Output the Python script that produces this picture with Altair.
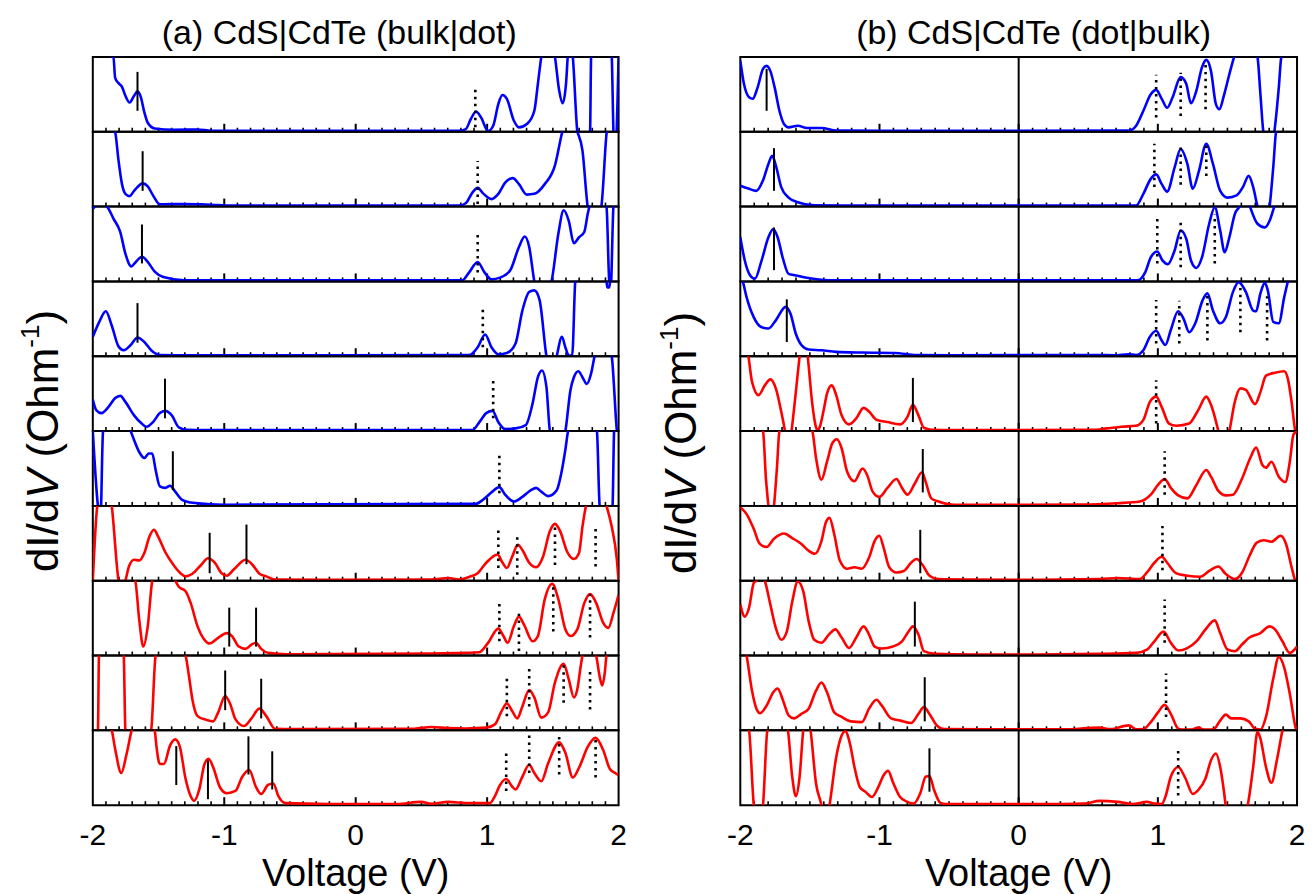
import altair as alt
import pandas as pd

# ---------------- (a) CdS|CdTe (bulk|dot): (voltage, dI/dV scaled to panel height)
A1 = [(-2.0,1.05),(-1.843,1.0),(-1.830,0.72),(-1.804,0.65),(-1.778,0.6),(-1.752,0.48),(-1.720,0.39),(-1.686,0.48),(-1.660,0.54),(-1.634,0.46),(-1.608,0.26),(-1.582,0.12),(-1.529,0.044),(-1.386,0.027),(-1.203,0.03),(-1.098,0.013),(0.784,0.013),(0.837,0.035),(0.876,0.17),(0.915,0.27),(0.954,0.19),(1.007,0.01),(1.046,0.08),(1.085,0.37),(1.116,0.49),(1.150,0.44),(1.203,0.15),(1.242,0.058),(1.307,0.11),(1.359,0.28),(1.386,0.64),(1.412,1.0),(1.470,1.4),(1.516,1.0),(1.548,0.55),(1.574,0.38),(1.600,0.64),(1.613,1.0),(1.632,1.3),(1.652,1.0),(1.686,0.0),(1.725,-0.3),(1.783,0.0),(1.791,1.0),(1.830,1.4),(1.935,1.2),(1.948,1.0),(1.961,0.0),(1.974,-0.3),(2.0,1.0)]
A2 = [(-2.0,1.6),(-1.830,1.0),(-1.804,0.61),(-1.778,0.30),(-1.752,0.17),(-1.720,0.14),(-1.686,0.21),(-1.621,0.31),(-1.582,0.27),(-1.542,0.15),(-1.490,0.03),(-1.307,0.035),(-1.176,0.03),(-1.046,0.02),(-0.915,0.013),(0.784,0.013),(0.837,0.045),(0.889,0.19),(0.928,0.25),(0.967,0.18),(1.033,0.10),(1.085,0.17),(1.137,0.32),(1.195,0.38),(1.242,0.30),(1.302,0.16),(1.359,0.17),(1.438,0.30),(1.516,0.55),(1.569,0.98),(1.621,1.3),(1.686,1.0),(1.725,0.75),(1.765,0.0),(1.817,-0.3),(1.869,0.0),(1.908,0.97),(1.935,1.3),(2.0,1.5)]
A3 = [(-2.0,0.97),(-1.935,1.05),(-1.888,0.99),(-1.843,0.84),(-1.791,0.66),(-1.752,0.37),(-1.707,0.2),(-1.673,0.26),(-1.626,0.33),(-1.582,0.26),(-1.529,0.13),(-1.464,0.058),(-1.307,0.016),(-1.124,0.013),(0.810,0.015),(0.863,0.12),(0.928,0.26),(0.980,0.12),(1.033,0.027),(1.098,0.05),(1.176,0.15),(1.242,0.46),(1.286,0.6),(1.320,0.46),(1.359,0.0),(1.412,-0.3),(1.490,0.0),(1.542,0.64),(1.582,0.95),(1.621,0.81),(1.660,0.51),(1.699,0.59),(1.739,0.66),(1.765,0.9),(1.778,1.0),(1.830,1.3),(1.908,1.0),(1.929,0.0),(1.940,-0.1),(1.961,1.0),(2.0,1.3)]
A4 = [(-2.0,0.26),(-1.948,0.47),(-1.901,0.6),(-1.856,0.41),(-1.804,0.13),(-1.765,0.08),(-1.712,0.15),(-1.660,0.25),(-1.608,0.19),(-1.556,0.08),(-1.490,0.016),(-1.255,0.013),(0.863,0.015),(0.928,0.12),(0.985,0.29),(1.033,0.12),(1.085,0.027),(1.150,0.044),(1.216,0.17),(1.268,0.61),(1.320,0.86),(1.359,0.88),(1.399,0.75),(1.451,0.0),(1.490,-0.3),(1.529,0.0),(1.569,0.26),(1.595,0.12),(1.621,0.01),(1.647,0.01),(1.669,0.97),(1.686,1.3),(1.895,1.3),(1.914,0.92),(1.929,0.92),(1.948,1.3),(2.0,1.3)]
A5 = [(-2.0,0.42),(-1.974,0.28),(-1.935,0.24),(-1.882,0.32),(-1.830,0.44),(-1.791,0.47),(-1.752,0.39),(-1.686,0.21),(-1.634,0.11),(-1.590,0.058),(-1.542,0.12),(-1.490,0.24),(-1.451,0.27),(-1.399,0.21),(-1.346,0.05),(-1.281,0.016),(-1.124,0.013),(0.889,0.015),(0.941,0.12),(0.993,0.24),(1.041,0.27),(1.085,0.12),(1.137,0.027),(1.216,0.036),(1.294,0.08),(1.346,0.37),(1.386,0.72),(1.417,0.81),(1.451,0.59),(1.477,0.0),(1.529,-0.3),(1.595,0.0),(1.634,0.55),(1.660,0.72),(1.694,0.80),(1.725,0.72),(1.758,0.63),(1.791,0.77),(1.817,1.0),(1.882,1.4),(1.948,1.0),(1.987,0.0),(2.0,-0.2)]
A6 = [(-2.0,1.0),(-1.961,0.0),(-1.942,-0.2),(-1.922,1.0),(-1.830,1.4),(-1.712,1.0),(-1.686,0.88),(-1.647,0.72),(-1.608,0.64),(-1.574,0.70),(-1.548,0.70),(-1.522,0.48),(-1.490,0.26),(-1.451,0.24),(-1.412,0.27),(-1.373,0.19),(-1.320,0.08),(-1.255,0.044),(-1.150,0.027),(-0.993,0.015),(0.915,0.027),(0.967,0.08),(1.033,0.18),(1.093,0.25),(1.137,0.15),(1.203,0.058),(1.268,0.12),(1.333,0.21),(1.373,0.24),(1.412,0.19),(1.464,0.13),(1.529,0.21),(1.569,0.48),(1.595,0.75),(1.616,1.0),(1.725,1.4),(1.835,1.0),(1.856,0.0),(1.908,-0.3),(1.954,0.0),(1.966,1.0),(2.0,1.3)]
A7 = [(-2.0,0.0),(-1.966,1.0),(-1.908,1.4),(-1.856,1.0),(-1.804,0.0),(-1.778,-0.15),(-1.752,0.0),(-1.725,0.19),(-1.686,0.28),(-1.647,0.27),(-1.608,0.37),(-1.569,0.59),(-1.535,0.68),(-1.503,0.59),(-1.451,0.39),(-1.386,0.21),(-1.333,0.10),(-1.294,0.058),(-1.242,0.093),(-1.176,0.21),(-1.124,0.30),(-1.072,0.24),(-1.020,0.10),(-0.980,0.067),(-0.928,0.15),(-0.837,0.28),(-0.784,0.21),(-0.732,0.093),(-0.680,0.058),(-0.614,0.016),(-0.209,0.013),(0.575,0.016),(0.706,0.036),(0.784,0.016),(0.863,0.05),(0.928,0.10),(0.993,0.24),(1.080,0.35),(1.111,0.26),(1.150,0.17),(1.190,0.32),(1.234,0.48),(1.268,0.41),(1.320,0.24),(1.373,0.18),(1.425,0.32),(1.477,0.66),(1.516,0.76),(1.556,0.66),(1.608,0.39),(1.660,0.29),(1.699,0.37),(1.725,0.72),(1.752,1.0),(1.830,1.3),(1.908,1.0),(1.948,0.72),(1.987,0.28),(2.0,0.0)]
A8 = [(-2.0,1.4),(-1.678,1.0),(-1.647,0.48),(-1.616,0.12),(-1.582,0.39),(-1.548,1.0),(-1.464,1.4),(-1.373,1.0),(-1.346,0.92),(-1.294,0.86),(-1.255,0.70),(-1.203,0.39),(-1.150,0.21),(-1.111,0.16),(-1.059,0.22),(-0.980,0.30),(-0.941,0.26),(-0.889,0.12),(-0.837,0.089),(-0.790,0.15),(-0.758,0.17),(-0.719,0.089),(-0.667,0.036),(-0.523,0.016),(0.575,0.027),(0.837,0.036),(0.941,0.044),(1.007,0.17),(1.085,0.36),(1.124,0.26),(1.156,0.17),(1.203,0.39),(1.242,0.52),(1.281,0.41),(1.346,0.19),(1.386,0.26),(1.438,0.75),(1.495,0.96),(1.542,0.75),(1.595,0.35),(1.634,0.26),(1.686,0.35),(1.739,0.70),(1.783,0.82),(1.830,0.70),(1.882,0.44),(1.922,0.37),(1.961,0.57),(2.0,0.81)]
A9 = [(-2.0,-0.3),(-1.961,0.0),(-1.953,1.0),(-1.882,1.4),(-1.765,1.0),(-1.752,0.0),(-1.647,-0.4),(-1.556,0.0),(-1.522,1.0),(-1.412,1.4),(-1.294,1.0),(-1.268,0.72),(-1.242,0.41),(-1.203,0.19),(-1.137,0.14),(-1.085,0.12),(-1.046,0.24),(-0.993,0.46),(-0.954,0.35),(-0.915,0.15),(-0.850,0.058),(-0.797,0.15),(-0.732,0.29),(-0.680,0.19),(-0.614,0.022),(-0.471,0.016),(0.444,0.022),(0.575,0.044),(0.706,0.03),(0.837,0.025),(0.993,0.036),(1.059,0.08),(1.111,0.26),(1.150,0.36),(1.190,0.26),(1.229,0.16),(1.268,0.32),(1.320,0.54),(1.359,0.44),(1.412,0.17),(1.464,0.24),(1.516,0.64),(1.582,0.89),(1.621,0.68),(1.660,0.44),(1.686,0.55),(1.712,0.86),(1.725,1.0),(1.778,1.3),(1.830,1.0),(1.856,0.72),(1.875,0.6),(1.895,0.77),(1.908,1.0),(2.0,1.5)]
A10 = [(-2.0,1.4),(-1.856,1.0),(-1.830,0.75),(-1.783,0.43),(-1.746,0.66),(-1.705,1.0),(-1.621,1.4),(-1.529,1.0),(-1.516,0.79),(-1.490,0.55),(-1.459,0.55),(-1.412,0.80),(-1.373,0.88),(-1.339,0.79),(-1.294,0.35),(-1.255,0.12),(-1.229,0.058),(-1.190,0.21),(-1.150,0.55),(-1.119,0.62),(-1.085,0.51),(-1.033,0.24),(-0.980,0.16),(-0.915,0.19),(-0.863,0.38),(-0.810,0.47),(-0.758,0.24),(-0.719,0.15),(-0.667,0.27),(-0.627,0.29),(-0.588,0.12),(-0.536,0.027),(-0.209,0.016),(0.314,0.016),(0.497,0.044),(0.575,0.02),(0.706,0.044),(0.837,0.03),(1.020,0.027),(1.059,0.12),(1.098,0.27),(1.145,0.35),(1.190,0.25),(1.216,0.21),(1.268,0.38),(1.320,0.54),(1.359,0.43),(1.412,0.32),(1.464,0.56),(1.548,0.84),(1.595,0.70),(1.652,0.37),(1.699,0.50),(1.765,0.78),(1.825,0.90),(1.882,0.74),(1.935,0.48),(1.974,0.43),(2.0,0.40)]

# ---------------- (b) CdS|CdTe (dot|bulk)
B1 = [(-2.0,0.95),(-1.974,0.64),(-1.937,0.46),(-1.911,0.44),(-1.876,0.59),(-1.837,0.84),(-1.811,0.88),(-1.784,0.81),(-1.753,0.59),(-1.719,0.28),(-1.685,0.10),(-1.653,0.058),(-1.587,0.08),(-1.522,0.049),(-1.417,0.049),(-1.311,0.016),(-0.996,0.013),(0.791,0.015),(0.844,0.08),(0.896,0.28),(0.949,0.5),(0.988,0.56),(1.028,0.44),(1.067,0.32),(1.106,0.46),(1.164,0.73),(1.204,0.64),(1.238,0.38),(1.277,0.55),(1.317,0.86),(1.348,0.96),(1.382,0.81),(1.417,0.37),(1.443,0.30),(1.474,0.48),(1.514,0.77),(1.548,1.0),(1.632,1.4),(1.716,1.0),(1.737,0.5),(1.758,0.0),(1.803,-0.3),(1.837,0.0),(1.869,0.59),(1.887,1.0),(2.0,1.5)]
B2 = [(-2.0,0.28),(-1.942,0.24),(-1.884,0.21),(-1.837,0.35),(-1.798,0.57),(-1.771,0.68),(-1.745,0.55),(-1.706,0.26),(-1.653,0.12),(-1.587,0.058),(-1.469,0.016),(-1.259,0.013),(0.844,0.015),(0.896,0.17),(0.949,0.37),(0.988,0.43),(1.028,0.30),(1.067,0.20),(1.120,0.52),(1.164,0.77),(1.212,0.57),(1.251,0.24),(1.296,0.48),(1.348,0.84),(1.396,0.57),(1.448,0.21),(1.501,0.12),(1.566,0.15),(1.611,0.26),(1.653,0.41),(1.685,0.26),(1.716,0.0),(1.763,-0.3),(1.803,0.0),(1.829,0.52),(1.850,1.0),(2.0,1.5)]
B3 = [(-2.0,0.59),(-1.968,0.28),(-1.929,0.08),(-1.895,0.036),(-1.850,0.26),(-1.798,0.59),(-1.763,0.70),(-1.732,0.59),(-1.693,0.30),(-1.653,0.10),(-1.601,0.08),(-1.522,0.049),(-1.364,0.016),(-1.127,0.013),(0.857,0.015),(0.909,0.12),(0.949,0.32),(0.996,0.40),(1.033,0.28),(1.072,0.23),(1.120,0.41),(1.164,0.68),(1.204,0.57),(1.238,0.28),(1.277,0.18),(1.317,0.32),(1.369,0.77),(1.409,0.99),(1.448,0.68),(1.480,0.39),(1.514,0.59),(1.553,0.90),(1.593,1.02),(1.625,1.2),(1.658,1.02),(1.716,0.77),(1.769,0.72),(1.803,0.81),(1.837,1.0),(2.0,1.5)]
B4 = [(-2.0,1.1),(-1.982,1.0),(-1.955,0.79),(-1.903,0.52),(-1.850,0.39),(-1.798,0.37),(-1.745,0.48),(-1.674,0.66),(-1.640,0.57),(-1.601,0.30),(-1.561,0.15),(-1.509,0.089),(-1.417,0.08),(-1.311,0.058),(-1.127,0.049),(-0.891,0.044),(-0.733,0.016),(-0.470,0.013),(0.581,0.016),(0.686,0.013),(0.791,0.027),(0.844,0.016),(0.896,0.08),(0.943,0.26),(0.988,0.34),(1.028,0.21),(1.054,0.15),(1.093,0.35),(1.146,0.60),(1.185,0.50),(1.225,0.32),(1.269,0.44),(1.322,0.75),(1.356,0.84),(1.396,0.61),(1.448,0.44),(1.488,0.52),(1.540,0.86),(1.580,0.99),(1.632,0.86),(1.685,0.61),(1.706,0.60),(1.737,0.84),(1.769,0.98),(1.790,0.88),(1.829,0.46),(1.869,0.44),(1.908,0.79),(1.934,1.0),(2.0,1.5)]
B5 = [(-2.0,1.3),(-1.942,1.0),(-1.916,0.66),(-1.869,0.48),(-1.824,0.61),(-1.784,0.69),(-1.745,0.57),(-1.706,0.26),(-1.679,0.0),(-1.653,-0.3),(-1.632,0.0),(-1.601,0.52),(-1.574,1.0),(-1.548,1.4),(-1.516,1.0),(-1.482,0.35),(-1.456,0.05),(-1.443,0.01),(-1.430,0.05),(-1.403,0.26),(-1.377,0.50),(-1.343,0.61),(-1.311,0.48),(-1.272,0.21),(-1.219,0.089),(-1.167,0.17),(-1.114,0.31),(-1.075,0.26),(-1.022,0.15),(-0.943,0.12),(-0.852,0.089),(-0.799,0.19),(-0.760,0.35),(-0.720,0.21),(-0.681,0.044),(-0.628,0.018),(-0.470,0.013),(0.528,0.016),(0.633,0.036),(0.739,0.058),(0.844,0.071),(0.896,0.15),(0.943,0.39),(0.988,0.46),(1.028,0.32),(1.080,0.10),(1.133,0.071),(1.225,0.10),(1.290,0.28),(1.348,0.46),(1.382,0.35),(1.435,0.0),(1.474,-0.3),(1.514,0.0),(1.553,0.39),(1.593,0.57),(1.632,0.55),(1.698,0.36),(1.737,0.52),(1.777,0.74),(1.842,0.78),(1.908,0.80),(1.934,0.70),(1.961,0.39),(1.987,0.0),(2.0,-0.1)]
B6 = [(-2.0,1.4),(-1.837,1.0),(-1.816,0.37),(-1.798,0.0),(-1.779,-0.3),(-1.758,0.0),(-1.737,0.50),(-1.719,1.0),(-1.601,1.4),(-1.482,1.0),(-1.456,0.64),(-1.417,0.35),(-1.377,0.59),(-1.338,0.84),(-1.306,0.89),(-1.272,0.77),(-1.233,0.46),(-1.180,0.33),(-1.122,0.50),(-1.088,0.41),(-1.049,0.19),(-1.001,0.12),(-0.943,0.24),(-0.878,0.36),(-0.838,0.24),(-0.799,0.15),(-0.746,0.30),(-0.694,0.45),(-0.668,0.32),(-0.628,0.10),(-0.576,0.058),(-0.470,0.016),(0.055,0.016),(0.449,0.018),(0.712,0.036),(0.870,0.058),(0.949,0.15),(1.001,0.28),(1.049,0.36),(1.093,0.24),(1.146,0.14),(1.212,0.10),(1.277,0.28),(1.348,0.48),(1.382,0.39),(1.435,0.20),(1.488,0.14),(1.540,0.15),(1.606,0.37),(1.664,0.64),(1.706,0.78),(1.750,0.55),(1.777,0.51),(1.816,0.59),(1.869,0.39),(1.916,0.32),(1.948,0.59),(1.974,0.95),(1.995,1.0),(2.0,1.05)]
B7 = [(-2.0,0.98),(-1.955,0.89),(-1.903,0.69),(-1.863,0.50),(-1.811,0.45),(-1.758,0.56),(-1.685,0.63),(-1.627,0.57),(-1.561,0.49),(-1.509,0.40),(-1.464,0.36),(-1.417,0.53),(-1.385,0.78),(-1.359,0.84),(-1.325,0.62),(-1.285,0.27),(-1.233,0.16),(-1.180,0.18),(-1.127,0.16),(-1.075,0.31),(-1.035,0.53),(-1.001,0.60),(-0.970,0.44),(-0.930,0.18),(-0.878,0.11),(-0.825,0.13),(-0.773,0.24),(-0.733,0.29),(-0.694,0.22),(-0.641,0.067),(-0.576,0.022),(-0.339,0.016),(0.055,0.013),(0.581,0.022),(0.712,0.036),(0.870,0.022),(0.922,0.11),(0.975,0.24),(1.028,0.32),(1.067,0.24),(1.133,0.098),(1.212,0.067),(1.304,0.053),(1.369,0.13),(1.435,0.19),(1.488,0.089),(1.553,0.022),(1.606,0.11),(1.658,0.33),(1.711,0.51),(1.764,0.54),(1.816,0.52),(1.882,0.60),(1.921,0.49),(1.961,0.18),(1.987,0.0),(2.0,-0.05)]
B8 = [(-2.0,0.68),(-1.968,0.52),(-1.937,0.64),(-1.903,0.97),(-1.884,1.0),(-1.858,1.1),(-1.824,1.0),(-1.784,0.68),(-1.745,0.37),(-1.706,0.21),(-1.666,0.32),(-1.627,0.72),(-1.587,0.99),(-1.548,0.86),(-1.509,0.46),(-1.469,0.21),(-1.417,0.17),(-1.364,0.28),(-1.317,0.35),(-1.272,0.24),(-1.219,0.10),(-1.167,0.24),(-1.114,0.39),(-1.075,0.28),(-1.035,0.12),(-0.983,0.093),(-0.904,0.12),(-0.838,0.19),(-0.791,0.32),(-0.760,0.39),(-0.720,0.28),(-0.681,0.058),(-0.602,0.022),(-0.339,0.013),(0.055,0.013),(0.581,0.022),(0.844,0.036),(0.922,0.08),(0.975,0.19),(1.041,0.32),(1.093,0.17),(1.146,0.067),(1.212,0.10),(1.277,0.19),(1.343,0.35),(1.409,0.47),(1.448,0.30),(1.501,0.08),(1.553,0.058),(1.606,0.15),(1.658,0.24),(1.737,0.30),(1.803,0.39),(1.842,0.35),(1.895,0.19),(1.948,0.036),(2.0,0.12)]
B9 = [(-2.0,1.3),(-1.955,1.0),(-1.916,0.53),(-1.884,0.29),(-1.858,0.23),(-1.811,0.33),(-1.763,0.51),(-1.732,0.56),(-1.693,0.40),(-1.653,0.20),(-1.614,0.16),(-1.561,0.22),(-1.509,0.29),(-1.456,0.53),(-1.417,0.64),(-1.377,0.51),(-1.325,0.24),(-1.272,0.18),(-1.206,0.12),(-1.127,0.11),(-1.075,0.29),(-1.022,0.41),(-0.983,0.33),(-0.917,0.16),(-0.852,0.13),(-0.773,0.098),(-0.720,0.22),(-0.681,0.31),(-0.641,0.22),(-0.589,0.067),(-0.536,0.016),(-0.208,0.013),(0.318,0.013),(0.581,0.036),(0.660,0.016),(0.791,0.067),(0.844,0.013),(0.896,0.016),(0.949,0.11),(1.001,0.24),(1.049,0.34),(1.093,0.22),(1.146,0.022),(1.172,0.01),(1.238,0.01),(1.290,0.036),(1.330,0.01),(1.396,0.01),(1.448,0.13),(1.488,0.21),(1.527,0.16),(1.593,0.16),(1.653,0.12),(1.698,0.022),(1.737,0.01),(1.777,0.18),(1.829,0.69),(1.869,0.98),(1.908,0.84),(1.948,0.49),(1.995,0.0),(2.0,-0.02)]
B10 = [(-2.0,1.4),(-1.937,1.0),(-1.903,0.0),(-1.869,-0.3),(-1.837,0.0),(-1.806,1.0),(-1.732,1.4),(-1.658,1.0),(-1.627,0.38),(-1.601,0.12),(-1.574,0.38),(-1.548,1.0),(-1.522,1.3),(-1.495,1.0),(-1.456,0.29),(-1.417,0.0),(-1.390,-0.3),(-1.359,0.0),(-1.311,0.64),(-1.272,0.93),(-1.246,0.99),(-1.212,0.82),(-1.180,0.51),(-1.141,0.24),(-1.101,0.18),(-1.054,0.11),(-1.009,0.24),(-0.970,0.40),(-0.938,0.46),(-0.904,0.31),(-0.852,0.11),(-0.799,0.044),(-0.754,0.022),(-0.707,0.16),(-0.668,0.38),(-0.641,0.39),(-0.607,0.20),(-0.562,0.031),(-0.523,0.016),(0.318,0.016),(0.476,0.022),(0.581,0.058),(0.712,0.044),(0.817,0.016),(0.922,0.044),(0.975,0.022),(1.028,0.016),(1.054,0.11),(1.093,0.38),(1.146,0.51),(1.198,0.36),(1.251,0.15),(1.290,0.20),(1.343,0.36),(1.382,0.60),(1.417,0.69),(1.448,0.51),(1.474,0.20),(1.488,0.0),(1.566,-0.3),(1.645,0.0),(1.685,0.51),(1.716,0.98),(1.737,0.89),(1.777,0.51),(1.816,0.30),(1.855,0.60),(1.882,0.87),(1.895,1.0),(2.0,1.5)]

# ---------------- level markers: (panel, voltage, low, high)
SOLID_A = [(1,-1.660,0.28,0.80),(2,-1.621,0.21,0.74),(3,-1.626,0.24,0.76),(4,-1.660,0.18,0.71),(5,-1.451,0.17,0.70),(6,-1.391,0.21,0.73),(7,-1.111,0.10,0.64),(7,-0.831,0.22,0.75),(8,-0.962,0.12,0.64),(8,-0.758,0.12,0.64),(9,-0.993,0.27,0.80),(9,-0.719,0.16,0.69),(10,-1.365,0.27,0.79),(10,-1.124,0.08,0.60),(10,-0.816,0.41,0.92),(10,-0.635,0.21,0.72)]
DOTTED_A = [(1,0.910,0.06,0.61),(2,0.928,0.035,0.61),(3,0.928,0.12,0.64),(4,0.967,0.12,0.67),(5,1.046,0.17,0.70),(6,1.093,0.17,0.70),(7,1.085,0.17,0.70),(7,1.229,0.08,0.61),(7,1.516,0.21,0.76),(7,1.825,0.19,0.72),(8,1.093,0.19,0.71),(8,1.242,0.06,0.59),(8,1.503,0.32,0.94),(8,1.783,0.24,0.82),(9,1.150,0.19,0.72),(9,1.320,0.32,0.86),(9,1.582,0.37,0.89),(9,1.783,0.28,0.81),(10,1.145,0.19,0.72),(10,1.320,0.43,0.97),(10,1.548,0.41,0.95),(10,1.825,0.37,0.92)]
SOLID_B = [(1,-1.811,0.28,0.84),(2,-1.758,0.21,0.78),(3,-1.758,0.15,0.72),(4,-1.666,0.19,0.76),(5,-0.760,0.12,0.71),(6,-0.689,0.18,0.76),(7,-0.707,0.10,0.68),(8,-0.746,0.12,0.72),(9,-0.675,0.12,0.71),(10,-0.641,0.18,0.76)]
DOTTED_B = [(1,0.988,0.19,0.76),(1,1.164,0.21,0.79),(1,1.343,0.30,0.92),(2,0.975,0.26,0.84),(2,1.164,0.29,0.84),(2,1.348,0.41,0.86),(3,0.996,0.24,0.84),(3,1.164,0.19,0.84),(3,1.409,0.24,0.90),(4,0.988,0.17,0.75),(4,1.154,0.17,0.74),(4,1.356,0.21,0.81),(4,1.593,0.32,0.92),(4,1.785,0.21,0.80),(5,0.988,0.10,0.68),(6,1.049,0.15,0.73),(7,1.033,0.14,0.73),(8,1.049,0.17,0.75),(9,1.059,0.18,0.76),(10,1.146,0.13,0.73)]

CURVES_A = [A1, A2, A3, A4, A5, A6, A7, A8, A9, A10]
CURVES_B = [B1, B2, B3, B4, B5, B6, B7, B8, B9, B10]
N_BLUE_A = 6
N_BLUE_B = 4
TICK_POS = [-2, -1, 0, 1, 2]
TICK_TEXT = ["-2", "-1", "0", "1", "2"]
MAJOR = [-1, 0, 1]
MINOR = [round(-2 + 0.1 * i, 1) for i in range(1, 40) if i % 10 != 0]
TITLE_A = "(a) CdS|CdTe (bulk|dot)"
TITLE_B = "(b) CdS|CdTe (dot|bulk)"
XLABEL = "Voltage (V)"

H = 75
W_A = 527
W_B = 558
FONT = "Liberation Sans"
BLUE = "#0000ff"
RED = "#ff0000"


def xenc():
    return alt.X("V:Q", scale=alt.Scale(domain=[-2, 2], nice=False, zero=False), axis=None)


def yenc(field):
    return alt.Y(f"{field}:Q", scale=alt.Scale(domain=[0, 1], nice=False, zero=False), axis=None)


def text_layer(text, x, y, size, align="center", angle=0, style="normal"):
    return alt.Chart(pd.DataFrame({"t": [text]})).mark_text(
        font=FONT, fontSize=size, align=align, baseline="alphabetic",
        angle=angle, fontStyle=style, color="black"
    ).encode(text="t:N", x=alt.value(x), y=alt.value(y))


def ytitle_layers(xc, yc, F):
    Fs = round(F * 0.6)
    w1 = 1.668 * F
    w2 = 0.667 * F
    wsp = 0.278 * F
    w3 = 2.5 * F
    w4 = 0.889 * Fs
    w5 = 0.333 * F
    total = w1 + w2 + wsp + w3 + w4 + w5
    y = yc + total / 2
    xb = xc + 0.358 * F
    out = [text_layer("dI/d", xb, y, F, align="left", angle=270)]
    y -= w1
    out.append(text_layer("V", xb, y, F, align="left", angle=270, style="italic"))
    y -= w2 + wsp
    out.append(text_layer("(Ohm", xb, y, F, align="left", angle=270))
    y -= w3
    out.append(text_layer("-1", xb - 0.42 * F, y, Fs, align="left", angle=270))
    y -= w4
    out.append(text_layer(")", xb, y, F, align="left", angle=270))
    return out


def panel(col, idx, curve, color, solids, dots, width):
    layers = []
    layers.append(alt.Chart(pd.DataFrame({"V": MINOR})).mark_rule(color="black", strokeWidth=1.6).encode(
        x=xenc(), y=alt.value(H), y2=alt.value(H - 4)))
    layers.append(alt.Chart(pd.DataFrame({"V": MAJOR})).mark_rule(color="black", strokeWidth=2).encode(
        x=xenc(), y=alt.value(H), y2=alt.value(H - 8)))
    if col == "b":
        layers.append(alt.Chart(pd.DataFrame({"V": [0]})).mark_rule(color="black", strokeWidth=2).encode(
            x=xenc(), y=alt.value(0), y2=alt.value(H)))
    df = pd.DataFrame(curve, columns=["V", "G"])
    layers.append(alt.Chart(df).mark_line(color=color, strokeWidth=2.6, clip=True, interpolate="monotone").encode(
        x=xenc(), y=yenc("G")))
    if solids:
        sdf = pd.DataFrame(solids, columns=["V", "lo", "hi"])
        layers.append(alt.Chart(sdf).mark_rule(color="black", strokeWidth=2).encode(
            x=xenc(), y=yenc("lo"), y2="hi:Q"))
    if dots:
        ddf = pd.DataFrame(dots, columns=["V", "lo", "hi"])
        layers.append(alt.Chart(ddf).mark_rule(color="black", strokeWidth=2.6, strokeDash=[2.5, 4.5]).encode(
            x=xenc(), y=yenc("lo"), y2="hi:Q"))
    if idx == 0:
        if col == "a":
            layers.append(alt.Chart(pd.DataFrame({"a": [0]})).mark_rect(color="white").encode(
                x=alt.value(-84), x2=alt.value(-83), y=alt.value(-47), y2=alt.value(-46)))
            layers.append(text_layer(TITLE_A, 247, -13, 34))
            layers += ytitle_layers(-51, 385, 44)
        else:
            layers.append(text_layer(TITLE_B, 294, -13, 34))
            layers += ytitle_layers(-60, 387, 44)
    if idx == 9:
        tdf = pd.DataFrame({"V": TICK_POS, "L": TICK_TEXT})
        layers.append(alt.Chart(tdf).mark_text(font=FONT, fontSize=30, baseline="alphabetic", color="black").encode(
            x=xenc(), y=alt.value(H + 40), text="L:N"))
        layers.append(text_layer(XLABEL, width / 2, H + 81, 38))
    return alt.layer(*layers).properties(width=width, height=H)


charts = []
for i in range(10):
    for col, curves, nblue, solids, dots, width in (
        ("a", CURVES_A, N_BLUE_A, SOLID_A, DOTTED_A, W_A),
        ("b", CURVES_B, N_BLUE_B, SOLID_B, DOTTED_B, W_B),
    ):
        color = BLUE if i < nblue else RED
        s = [(v, lo, hi) for (p, v, lo, hi) in solids if p == i + 1]
        d = [(v, lo, hi) for (p, v, lo, hi) in dots if p == i + 1]
        charts.append(panel(col, i, curves[i], color, s, d, width))

chart = alt.concat(*charts, columns=2, spacing={"row": 0, "column": 122}).properties(
    bounds="flush", padding=0, background="white"
).configure_view(stroke="black", strokeWidth=2)

chart.save("out.html", embed_options={"renderer": "svg", "actions": False})
